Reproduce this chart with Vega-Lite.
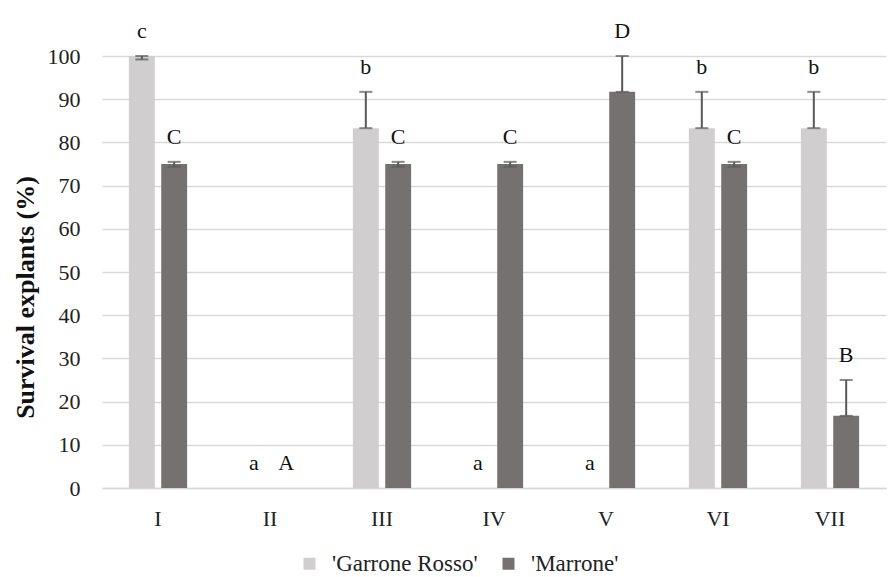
{
  "$schema": "https://vega.github.io/schema/vega-lite/v6.json",
  "width": 784,
  "height": 432,
  "autosize": {"type": "none"},
  "padding": {"left": 102, "top": 56, "right": 8, "bottom": 89},
  "background": "white",
  "config": {
    "view": {"stroke": null},
    "font": "Liberation Serif",
    "axis": {"labelFont": "Liberation Serif", "titleFont": "Liberation Serif", "labelColor": "#222222", "titleColor": "#111111"}
  },
  "data": {
    "values": [
      {"g": "I", "s": "'Garrone Rosso'", "v": 100, "lo": 99.2, "hi": 100, "l": "c"},
      {"g": "I", "s": "'Marrone'", "v": 75, "lo": 74.4, "hi": 75.5, "l": "C"},
      {"g": "II", "s": "'Garrone Rosso'", "v": 0, "lo": 0, "hi": 0, "l": "a"},
      {"g": "II", "s": "'Marrone'", "v": 0, "lo": 0, "hi": 0, "l": "A"},
      {"g": "III", "s": "'Garrone Rosso'", "v": 83.3, "lo": 83.3, "hi": 91.7, "l": "b"},
      {"g": "III", "s": "'Marrone'", "v": 75, "lo": 74.4, "hi": 75.5, "l": "C"},
      {"g": "IV", "s": "'Garrone Rosso'", "v": 0, "lo": 0, "hi": 0, "l": "a"},
      {"g": "IV", "s": "'Marrone'", "v": 75, "lo": 74.4, "hi": 75.5, "l": "C"},
      {"g": "V", "s": "'Garrone Rosso'", "v": 0, "lo": 0, "hi": 0, "l": "a"},
      {"g": "V", "s": "'Marrone'", "v": 91.7, "lo": 91.7, "hi": 100, "l": "D"},
      {"g": "VI", "s": "'Garrone Rosso'", "v": 83.3, "lo": 83.3, "hi": 91.7, "l": "b"},
      {"g": "VI", "s": "'Marrone'", "v": 75, "lo": 74.4, "hi": 75.5, "l": "C"},
      {"g": "VII", "s": "'Garrone Rosso'", "v": 83.3, "lo": 83.3, "hi": 91.7, "l": "b"},
      {"g": "VII", "s": "'Marrone'", "v": 16.7, "lo": 16.7, "hi": 25, "l": "B"}
    ]
  },
  "encoding": {
    "x": {
      "field": "g", "type": "nominal", "sort": null,
      "scale": {"paddingInner": 0.48, "paddingOuter": 0.24},
      "axis": {"title": null, "labelAngle": 0, "labelFontSize": 22, "labelPadding": 20, "ticks": false, "domain": true, "domainColor": "#d9d9d9", "domainWidth": 1.5, "grid": false}
    },
    "xOffset": {"field": "s", "type": "nominal", "sort": null, "scale": {"paddingInner": 0.2}}
  },
  "layer": [
    {
      "mark": {"type": "bar"},
      "encoding": {
        "y": {
          "field": "v", "type": "quantitative",
          "scale": {"domain": [0, 100]},
          "axis": {"title": "Survival explants (%)", "titleFontSize": 26, "titleFontWeight": "bold", "titleX": -77, "titleY": 241, "titleAlign": "center", "titleBaseline": "middle", "titleAngle": -90, "labelFontSize": 22, "labelPadding": 22, "values": [0,10,20,30,40,50,60,70,80,90,100], "ticks": false, "domain": false, "gridColor": "#d9d9d9", "gridWidth": 1.5}
        },
        "color": {
          "field": "s", "type": "nominal",
          "scale": {"domain": ["'Garrone Rosso'", "'Marrone'"], "range": ["#d0cece", "#767171"]},
          "legend": {"title": null, "orient": "none", "legendX": 196, "legendY": 496, "direction": "horizontal", "symbolType": "square", "symbolSize": 144, "symbolStrokeWidth": 0, "labelFont": "Liberation Serif", "labelFontSize": 23, "labelColor": "#222222", "columnPadding": 19, "labelOffset": 11}
        }
      }
    },
    {
      "transform": [{"filter": "datum.hi > datum.lo"}],
      "mark": {"type": "rule", "color": "#595959", "strokeWidth": 2},
      "encoding": {
        "y": {"field": "lo", "type": "quantitative", "axis": {"title": "Survival explants (%)", "titleFontSize": 26, "titleFontWeight": "bold", "titleX": -77, "titleY": 241, "titleAlign": "center", "titleBaseline": "middle", "titleAngle": -90, "labelFontSize": 22, "labelPadding": 22, "values": [0,10,20,30,40,50,60,70,80,90,100], "ticks": false, "domain": false, "gridColor": "#d9d9d9", "gridWidth": 1.5}},
        "y2": {"field": "hi"}
      }
    },
    {
      "transform": [{"filter": "datum.hi > datum.lo"}],
      "mark": {"type": "tick", "color": "#595959", "thickness": 2, "size": 13},
      "encoding": {"y": {"field": "lo", "type": "quantitative", "axis": {"title": "Survival explants (%)", "titleFontSize": 26, "titleFontWeight": "bold", "titleX": -77, "titleY": 241, "titleAlign": "center", "titleBaseline": "middle", "titleAngle": -90, "labelFontSize": 22, "labelPadding": 22, "values": [0,10,20,30,40,50,60,70,80,90,100], "ticks": false, "domain": false, "gridColor": "#d9d9d9", "gridWidth": 1.5}}}
    },
    {
      "transform": [{"filter": "datum.hi > datum.lo"}],
      "mark": {"type": "tick", "color": "#595959", "thickness": 2, "size": 13},
      "encoding": {"y": {"field": "hi", "type": "quantitative", "axis": {"title": "Survival explants (%)", "titleFontSize": 26, "titleFontWeight": "bold", "titleX": -77, "titleY": 241, "titleAlign": "center", "titleBaseline": "middle", "titleAngle": -90, "labelFontSize": 22, "labelPadding": 22, "values": [0,10,20,30,40,50,60,70,80,90,100], "ticks": false, "domain": false, "gridColor": "#d9d9d9", "gridWidth": 1.5}}}
    },
    {
      "mark": {"type": "text", "font": "Liberation Serif", "fontSize": 22, "color": "#111111", "baseline": "middle", "dy": -25},
      "encoding": {
        "y": {"field": "hi", "type": "quantitative", "axis": {"title": "Survival explants (%)", "titleFontSize": 26, "titleFontWeight": "bold", "titleX": -77, "titleY": 241, "titleAlign": "center", "titleBaseline": "middle", "titleAngle": -90, "labelFontSize": 22, "labelPadding": 22, "values": [0,10,20,30,40,50,60,70,80,90,100], "ticks": false, "domain": false, "gridColor": "#d9d9d9", "gridWidth": 1.5}},
        "text": {"field": "l"}
      }
    }
  ]
}
